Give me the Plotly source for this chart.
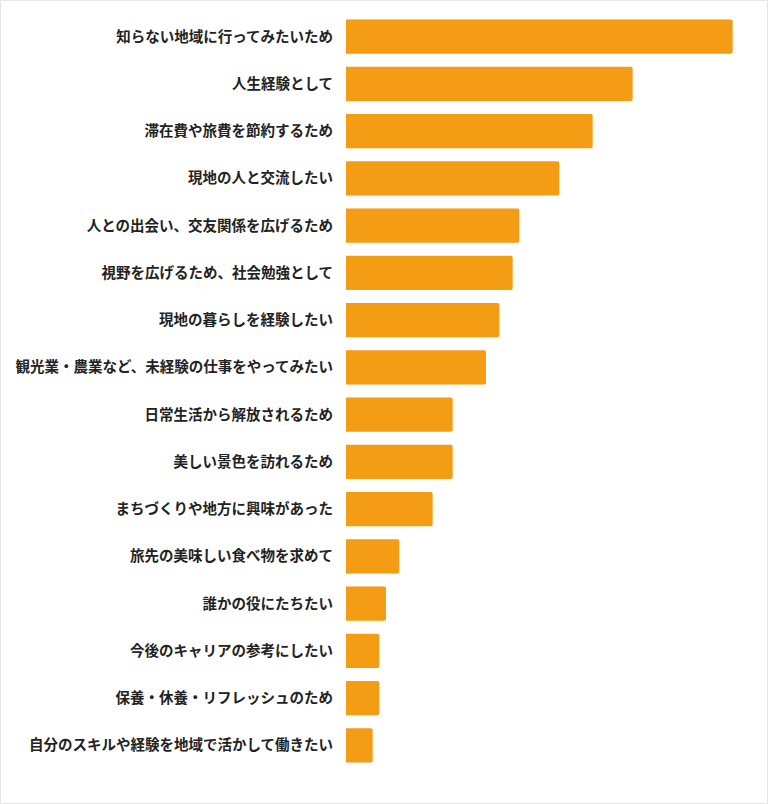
import plotly.graph_objects as go

# 回答項目（上から順）
reasons = [
    "知らない地域に行ってみたいため",
    "人生経験として",
    "滞在費や旅費を節約するため",
    "現地の人と交流したい",
    "人との出会い、交友関係を広げるため",
    "視野を広げるため、社会勉強として",
    "現地の暮らしを経験したい",
    "観光業・農業など、未経験の仕事をやってみたい",
    "日常生活から解放されるため",
    "美しい景色を訪れるため",
    "まちづくりや地方に興味があった",
    "旅先の美味しい食べ物を求めて",
    "誰かの役にたちたい",
    "今後のキャリアの参考にしたい",
    "保養・休養・リフレッシュのため",
    "自分のスキルや経験を地域で活かして働きたい",
]
counts = [58, 43, 37, 32, 26, 25, 23, 21, 16, 16, 13, 8, 6, 5, 5, 4]

W, H = 768, 804
ml, mr, mt, mb = 346, 0, 13, 35

fig = go.Figure(go.Bar(
    x=counts,
    y=reasons,
    orientation="h",
    marker=dict(color="#F39C14", cornerradius=2, line=dict(width=0)),
    hoverinfo="x+y",
))

fig.update_layout(
    width=W, height=H,
    margin=dict(l=ml, r=mr, t=mt, b=mb),
    paper_bgcolor="white",
    plot_bgcolor="white",
    bargap=0.27,
    showlegend=False,
    font=dict(family="Noto Sans CJK JP", color="#222222"),
    xaxis=dict(range=[0, 63.3], visible=False, fixedrange=True),
    yaxis=dict(
        autorange="reversed",
        showgrid=False, showline=False, zeroline=False,
        ticks="", ticklabelstandoff=12,
        tickfont=dict(family="Noto Sans CJK JP", size=14.5, color="#222222", weight="bold"),
        fixedrange=True,
    ),
)

# 画像の外枠（薄いグレー）
pw = W - ml - mr
ph = H - mt - mb
fig.add_shape(
    type="rect", xref="paper", yref="paper",
    x0=-ml / pw + 0.5 / pw, x1=1 + mr / pw - 0.5 / pw,
    y0=-mb / ph + 0.5 / ph, y1=1 + mt / ph - 0.5 / ph,
    line=dict(color="#E6E6E6", width=1), layer="below",
)

# ページ余白をなくして図をウィンドウ左上に合わせる
fig.write_html(
    "out.html",
    config={"displayModeBar": False},
    post_script="document.body.style.margin='0';document.body.style.overflow='hidden';",
)
